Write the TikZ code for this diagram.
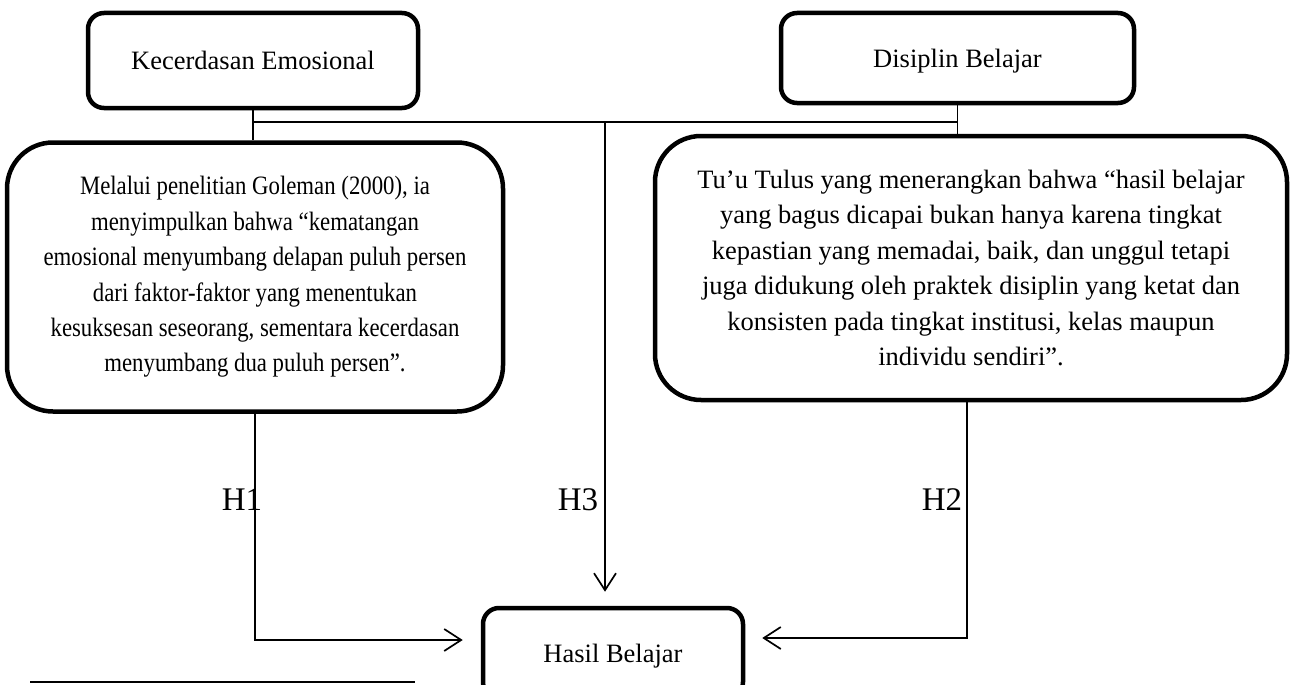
\documentclass[tikz,border=0pt]{standalone}
\usepackage{fontspec}
\setmainfont{Liberation Serif}
\newfontfamily\narrowserif[FakeStretch=0.86]{Liberation Serif}
\usetikzlibrary{arrows.meta,positioning,calc}
\tikzset{
  box/.style={draw, line width=4.5pt, rounded corners=16pt, align=center,
    font=\fontsize{26.5}{35.4}\selectfont},
  smallbox/.style={box, text height=20pt, text depth=1pt},
  bigbox/.style={box, rounded corners=46pt},
  link/.style={line width=1.7pt},
  flow/.style={link, -{Straight Barb[length=17pt, width=22pt, line width=1.7pt]}},
  hlab/.style={font=\fontsize{33}{40}\selectfont},
}
\begin{document}
\begin{tikzpicture}[x=1pt, y=-1pt]
\useasboundingbox (0,0) rectangle (1291,685);

\node[smallbox, minimum width=330pt, minimum height=95pt] (emosi) at (253,60.5) {Kecerdasan Emosional};
\node[smallbox, minimum width=353pt, minimum height=90pt] (disiplin) at (957.5,58) {Disiplin Belajar};
\node[bigbox, minimum width=496pt, minimum height=269pt, font=\narrowserif\fontsize{26.5}{35.4}\selectfont] (goleman) at (255,277)
  {Melalui penelitian Goleman (2000), ia\\menyimpulkan bahwa “kematangan\\emosional menyumbang delapan puluh persen\\dari faktor-faktor yang menentukan\\kesuksesan seseorang, sementara kecerdasan\\menyumbang dua puluh persen”.};
\node[bigbox, minimum width=632pt, minimum height=264pt] (tulus) at (971,268)
  {Tu’u Tulus yang menerangkan bahwa “hasil belajar\\yang bagus dicapai bukan hanya karena tingkat\\kepastian yang memadai, baik, dan unggul tetapi\\juga didukung oleh praktek disiplin yang ketat dan\\konsisten pada tingkat institusi, kelas maupun\\individu sendiri”.};
\node[smallbox, minimum width=260pt, minimum height=90pt] (hasil) at (613,653) {Hasil Belajar};

\coordinate (mid) at (605,122);
\draw[link] (emosi.south) -- (emosi.south |- goleman.north);
\draw[link] (emosi.south |- mid) -- (disiplin.south |- mid);
\draw[link] (disiplin.south) -- (disiplin.south |- tulus.north);

\draw[flow, shorten >=14pt] (mid) -- (mid |- hasil.north);
\draw[flow, shorten >=18pt] (goleman.south) |- ([yshift=13pt]hasil.west);
\draw[flow, shorten >=17pt] ([xshift=-4pt]tulus.south) |- ([yshift=15pt]hasil.east);

\node[hlab] (h1) at (242,500) {H1};
\node[hlab] (h3) at (578,500) {H3};
\node[hlab] (h2) at (942,500) {H2};

% footnote rule
\draw[line width=1.6pt] (30,682) -- (415,682);

\end{tikzpicture}
\end{document}
